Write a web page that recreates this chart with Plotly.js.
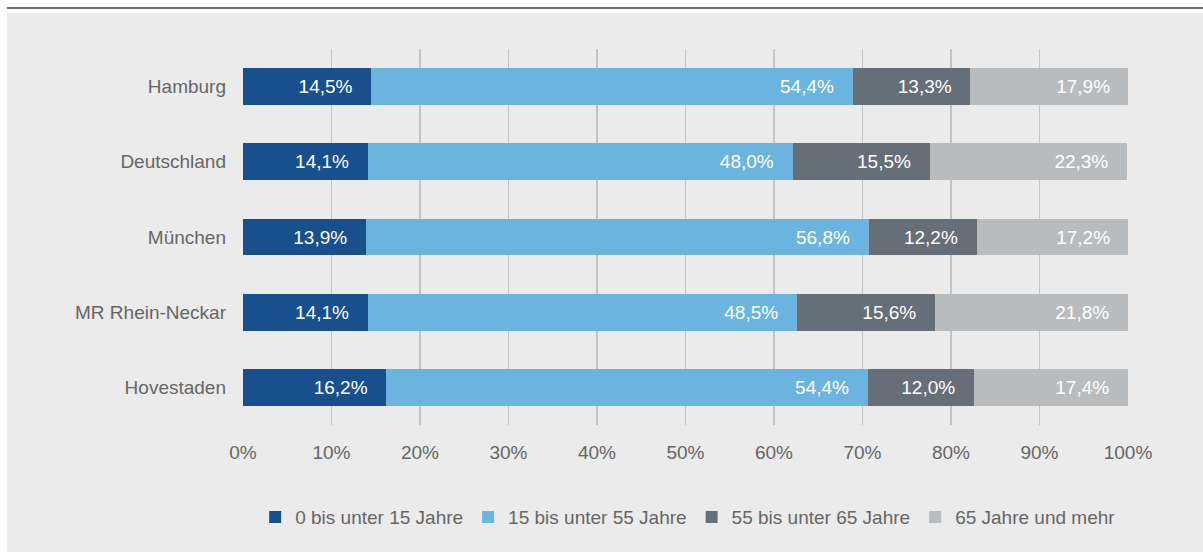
<!DOCTYPE html>
<html>
<head>
<meta charset="utf-8">
<script src="https://cdn.plot.ly/plotly-3.0.1.min.js"></script>
<style>
  html, body { margin: 0; padding: 0; background: #ffffff; width: 1203px; height: 552px; overflow: hidden; }
  #topline { position: absolute; left: 7px; top: 7px; width: 1196px; height: 2px; background: #656d75; }
  #chart { position: absolute; left: 7px; top: 13px; width: 1196px; height: 539px; }
</style>
</head>
<body>
<div id="topline"></div>
<div id="chart"></div>
<script>
const regions = ["Hamburg", "Deutschland", "München", "MR Rhein-Neckar", "Hovestaden"];
const seriesNames = ["0 bis unter 15 Jahre", "15 bis unter 55 Jahre", "55 bis unter 65 Jahre", "65 Jahre und mehr"];
const age0to15 = [14.5, 14.1, 13.9, 14.1, 16.2];
const age15to55 = [54.4, 48.0, 56.8, 48.5, 54.4];
const age55to65 = [13.3, 15.5, 12.2, 15.6, 12.0];
const age65plus = [17.9, 22.3, 17.2, 21.8, 17.4];
const tickValues = [0, 10, 20, 30, 40, 50, 60, 70, 80, 90, 100];
const tickLabels = ["0%", "10%", "20%", "30%", "40%", "50%", "60%", "70%", "80%", "90%", "100%"];
const colors = ["#17508d", "#6cb4e0", "#666e78", "#b8bcbe"];

const FONT = "Liberation Sans, Arial, sans-serif";
const pad = "\u00a0\u00a0\u00a0";
function fmt(v) { return v.toFixed(1).replace(".", ",") + "%" + pad; }

const allSeries = [age0to15, age15to55, age55to65, age65plus];
const traces = allSeries.map((vals, i) => ({
  type: "bar",
  orientation: "h",
  name: seriesNames[i],
  y: regions,
  x: vals,
  width: 0.49,
  marker: { color: colors[i], line: { width: 0 } },
  text: vals.map(fmt),
  textposition: "inside",
  insidetextanchor: "end",
  textangle: 0,
  insidetextfont: { family: FONT, size: 19, color: "#ffffff" },
  constraintext: "none",
  hoverinfo: "skip"
}));

const layout = {
  width: 1196,
  height: 539,
  paper_bgcolor: "#ebebeb",
  plot_bgcolor: "#ebebeb",
  barmode: "stack",
  margin: { l: 236, r: 75, t: 36, b: 127 },
  font: { family: FONT, size: 19, color: "#666666" },
  xaxis: {
    range: [0, 100],
    tickvals: tickValues,
    ticktext: tickLabels,
    showgrid: true,
    gridcolor: "#c2c5c8",
    gridwidth: 1.5,
    zeroline: false,
    showline: false,
    ticks: "",
    ticklabelstandoff: 14,
    tickfont: { family: FONT, size: 19, color: "#666666" },
    fixedrange: true
  },
  yaxis: {
    autorange: "reversed",
    showgrid: false,
    zeroline: false,
    showline: false,
    ticks: "",
    ticklabelstandoff: 16,
    tickfont: { family: FONT, size: 19, color: "#666666" },
    fixedrange: true
  },
  showlegend: true,
  legend: {
    orientation: "h",
    x: 0.503,
    xanchor: "center",
    y: -0.245,
    yanchor: "middle",
    font: { family: FONT, size: 19, color: "#666666" },
    bgcolor: "rgba(0,0,0,0)",
    traceorder: "normal"
  },
  bargap: 0.51
};

Plotly.newPlot("chart", traces, layout, { displayModeBar: false, staticPlot: true });
</script>
</body>
</html>
